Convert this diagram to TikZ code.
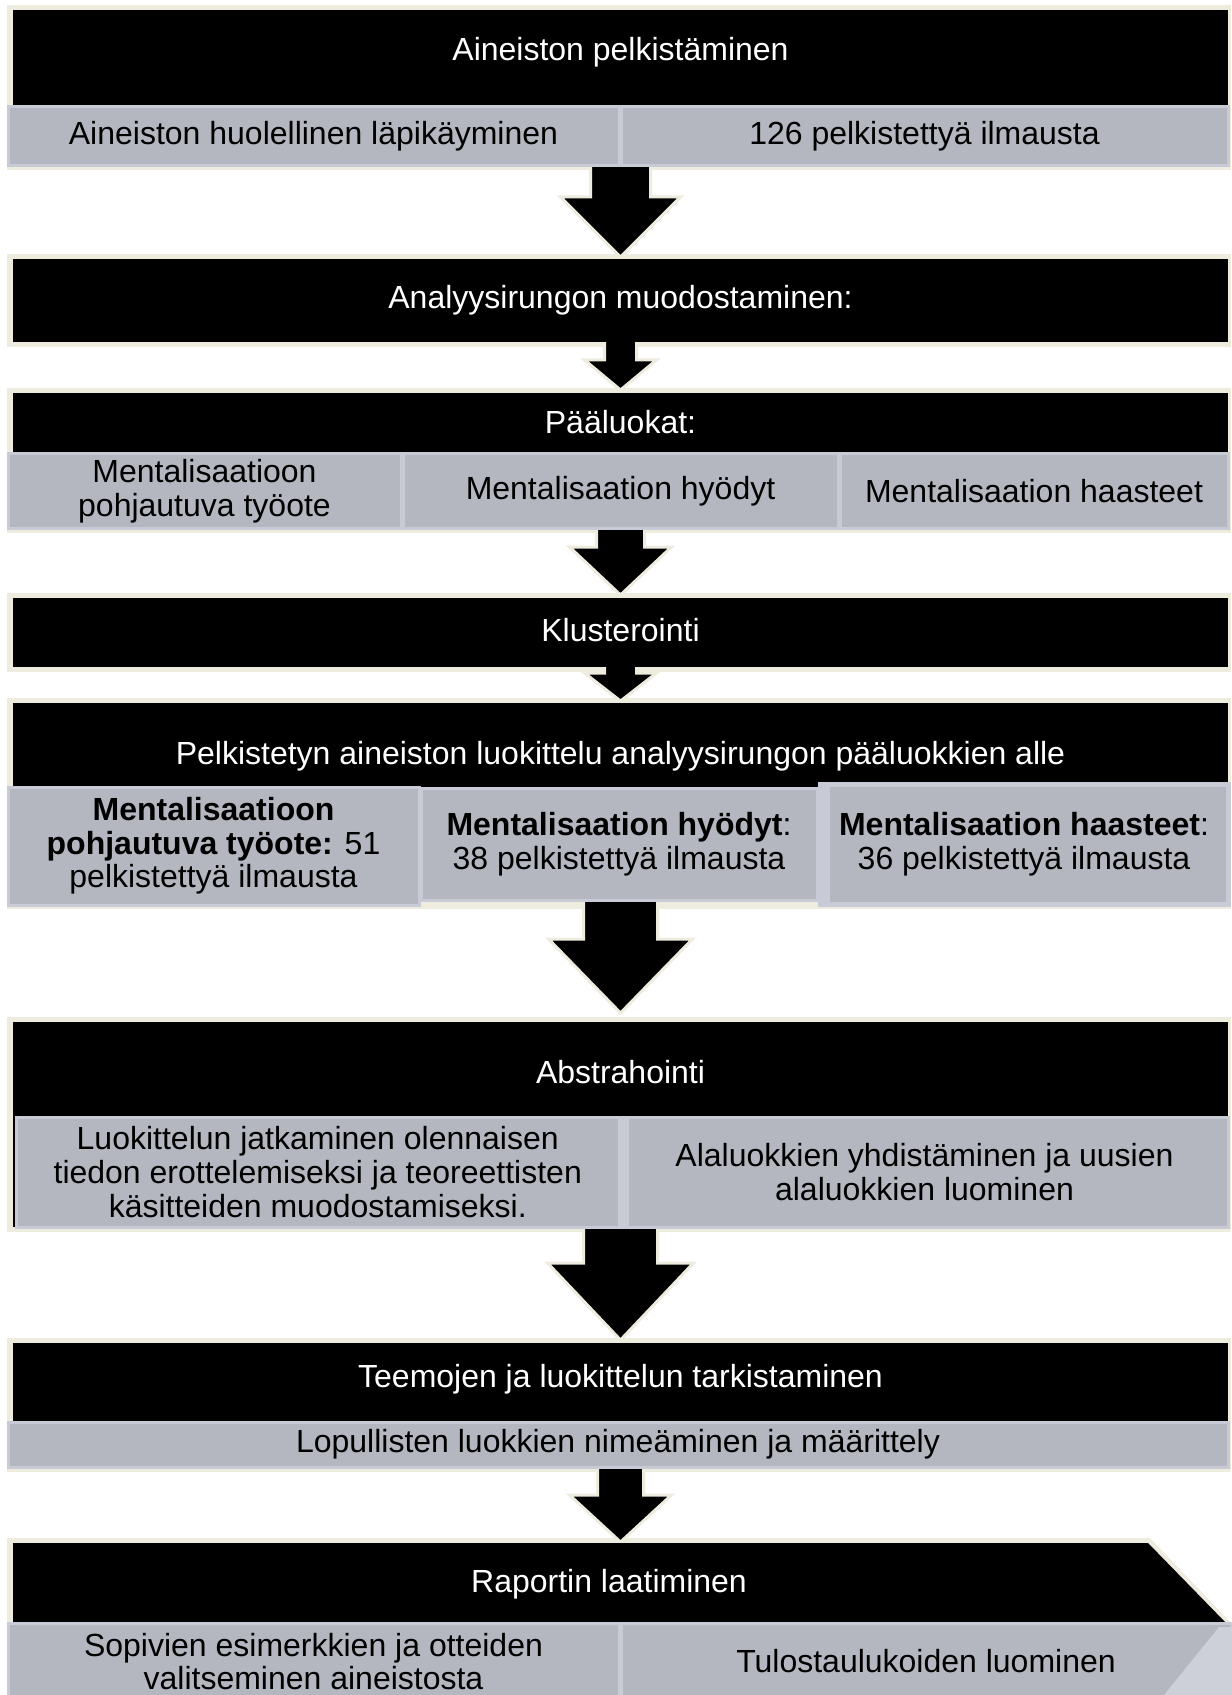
\documentclass[tikz,border=0pt]{standalone}
\usepackage{fontspec}
\setmainfont{Liberation Sans}
\usetikzlibrary{calc,fit}
\definecolor{cream}{HTML}{EEEBDF}
\definecolor{cellfill}{HTML}{B4B7C0}
\definecolor{cellline}{HTML}{C8CBD5}
\definecolor{celllight}{HTML}{CDD0D9}
\pgfdeclarelayer{halolayer}
\pgfdeclarelayer{arrowlayer}
\pgfsetlayers{halolayer,arrowlayer,main}
\tikzset{
  halo/.style={fill=cream, draw=none},
  hdr/.style={fill=black, draw=none, inner sep=0pt, outer sep=0pt},
  hdrtext/.style={text=white, font=\fontsize{16}{16.8}\selectfont, inner sep=0pt, anchor=base},
  cell/.style={fill=cellfill, draw=cellline, line width=1.5pt, inner sep=0pt, outer sep=0pt,
    text=black, align=center, font=\fontsize{16}{16.8}\selectfont},
  blockarrow/.style={fill=black, draw=cream, line width=1.5pt, line join=miter},
}
% rectangle node from corner coordinates (in px): #1 options, #2 name, #3 x1, #4 y1, #5 x2, #6 y2, #7 text
\newcommand\cellnode[7]{%
  \node[cell, #1, minimum width={(#5-#3)*0.5pt}, minimum height={(#6-#4)*0.5pt}]
    (#2) at ({(#3+#5)/2},{(#4+#6)/2}) {#7};}
% #1 top centre, #2 tip, #3 stem half width, #4 head half width, #5 head height
\newcommand\flowarrow[5]{%
  \draw[blockarrow] ($(#1)+(-#3,0)$) -- ($(#1)+(#3,0)$) -- ($(#2)+(#3,-#5)$)
    -- ($(#2)+(#4,-#5)$) -- (#2) -- ($(#2)+(-#4,-#5)$) -- ($(#2)+(-#3,-#5)$) -- cycle;}
\begin{document}
\begin{tikzpicture}[x=0.5pt,y=-0.5pt]
\useasboundingbox (0,0) rectangle (1231,1695);

% ---------- Box 1
\node[hdr, fit={(13,10) (1228,107)}] (h1) {};
\node[hdrtext] (t1) at (620.5,61) {Aineiston pelkistäminen};
\cellnode{}{c1a}{8}{107}{619}{166}{Aineiston huolellinen läpikäyminen}
\cellnode{}{c1b}{621}{107}{1228}{166}{126 pelkistettyä ilmausta}

% ---------- Box 2
\node[hdr, fit={(13,259) (1228,342)}] (h2) {};
\node[hdrtext] (t2) at (620.5,309) {Analyysirungon muodostaminen:};

% ---------- Box 3
\node[hdr, fit={(13,393) (1228,454)}] (h3) {};
\node[hdrtext] (t3) at (620.5,434) {Pääluokat:};
\cellnode{}{c3a}{8}{454}{401}{528}{Mentalisaatioon\\pohjautuva työote}
\cellnode{}{c3b}{403}{454}{838}{528}{Mentalisaation hyödyt}
\cellnode{}{c3c}{840}{454}{1228}{528}{Mentalisaation haasteet}

% ---------- Box 4
\node[hdr, fit={(13,598) (1228,667)}] (h4) {};
\node[hdrtext] (t4) at (620.5,641) {Klusterointi};

% ---------- Box 5
\node[hdr, fit={(13,703) (1228,787)}] (h5) {};
\node[hdrtext] (t5) at (620.5,764) {Pelkistetyn aineiston luokittelu analyysirungon pääluokkien alle};
\cellnode{}{c5a}{8}{787}{419}{905}{\textbf{Mentalisaatioon}\\\textbf{pohjautuva työote:} 51\\pelkistettyä ilmausta}
\cellnode{}{c5b}{421}{788}{817}{900}{\textbf{Mentalisaation hyödyt}:\\38 pelkistettyä ilmausta}
\cellnode{line width=2.5pt}{c5c}{820}{784}{1228}{904}{\textbf{Mentalisaation haasteet}:\\36 pelkistettyä ilmausta}
\fill[cellline] (818,783) rectangle (830,905);

% ---------- Box 6
\node[hdr, fit={(13,1022) (1228,1227)}] (h6) {};
\node[hdrtext] (t6) at (620.5,1083) {Abstrahointi};
\cellnode{}{c6a}{16.5}{1117}{619}{1227}{Luokittelun jatkaminen olennaisen\\tiedon erottelemiseksi ja teoreettisten\\käsitteiden muodostamiseksi.}
\cellnode{}{c6b}{621}{1117}{1228}{1227}{Alaluokkien yhdistäminen ja uusien\\alaluokkien luominen}
\fill[cellline] (620,1117) rectangle (629,1227);

% ---------- Box 7
\node[hdr, fit={(13,1343) (1228,1422)}] (h7) {};
\node[hdrtext] (t7) at (620.5,1387) {Teemojen ja luokittelun tarkistaminen};
\cellnode{}{c7}{8}{1422}{1228}{1467}{Lopullisten luokkien nimeäminen ja määrittely}

% ---------- Box 8
\fill[black] (13,1543) -- (1148,1543) -- (1226,1623) -- (13,1623) -- cycle;
\node[inner sep=0pt, outer sep=0pt, fit={(13,1543) (1228,1623)}] (h8) {};
\node[hdrtext] (t8) at (609,1592) {Raportin laatiminen};
\cellnode{}{c8a}{8}{1623}{619}{1700}{Sopivien esimerkkien ja otteiden\\valitseminen aineistosta}
\cellnode{}{c8b}{621}{1623}{1231}{1700}{Tulostaulukoiden luominen}
\fill[celllight] (1219,1627) -- (1232,1627) -- (1232,1700) -- (1160,1700) -- cycle;

% ---------- halos
\begin{pgfonlayer}{halolayer}
\fill[halo] (7,5) rectangle (1231,170);
\fill[halo] (7,254) rectangle (1231,347);
\fill[halo] (7,388) rectangle (1231,533);
\fill[halo] (7,593) rectangle (1231,672);
\fill[halo] (7,698) rectangle (1231,909);
\fill[halo] (7,1017) rectangle (1231,1232);
\fill[halo] (7,1338) rectangle (1231,1472);
\fill[halo] (7,1538) -- (1150,1538) -- (1234,1626) -- (1234,1700) -- (7,1700) -- cycle;
\end{pgfonlayer}

% ---------- arrows
\coordinate (a1s) at ($(h1.center |- c1a.south)+(0,-4)$);
\coordinate (a1t) at ($(h2.north)+(0,-2)$);
\coordinate (a2s) at ($(h2.south)+(0,-4)$);
\coordinate (a2t) at ($(h3.north)+(0,-3)$);
\coordinate (a3s) at ($(h3.center |- c3b.south)+(0,-4)$);
\coordinate (a3t) at ($(h4.north)+(0,-3)$);
\coordinate (a4s) at ($(h4.south)+(0,-4)$);
\coordinate (a4t) at ($(h5.north)+(0,-2)$);
\coordinate (a5s) at ($(h5.center |- c5b.south)+(0,-4)$);
\coordinate (a5t) at ($(h6.north)+(0,-9)$);
\coordinate (a6s) at ($(h6.center |- c6a.south)+(0,-4)$);
\coordinate (a6t) at ($(h7.north)+(0,-3)$);
\coordinate (a7s) at ($(h7.center |- c7.south)+(0,-4)$);
\coordinate (a7t) at ($(h8.north)+(0,-1)$);
\begin{pgfonlayer}{arrowlayer}
\flowarrow{a1s}{a1t}{30}{60}{60}
\flowarrow{a2s}{a2t}{16}{36}{30}
\flowarrow{a3s}{a3t}{24}{51}{48}
\flowarrow{a4s}{a4t}{16}{36}{28}
\flowarrow{a5s}{a5t}{37}{72}{74}
\flowarrow{a6s}{a6t}{37}{73}{77}
\flowarrow{a7s}{a7t}{23}{51}{47}
\end{pgfonlayer}
\end{tikzpicture}
\end{document}
